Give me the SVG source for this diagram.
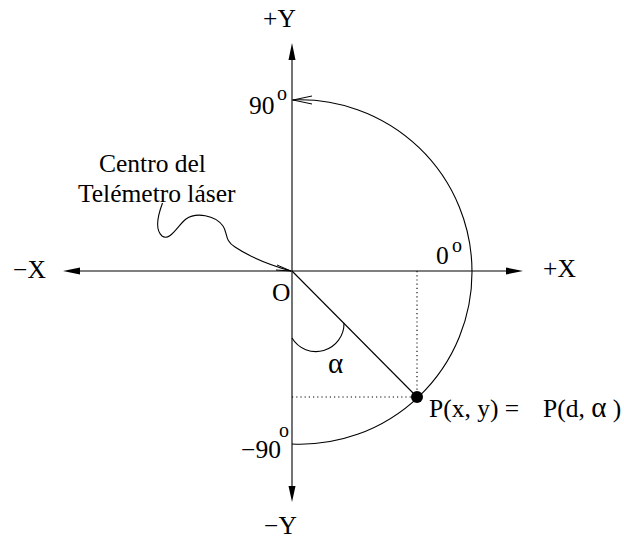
<svg xmlns="http://www.w3.org/2000/svg" width="624" height="540" viewBox="0 0 624 540">
<style>
text{font-family:"Liberation Serif","Times New Roman",serif;font-size:25.5px;fill:#000}
.sup{font-size:20px}
.greek{font-size:29px}
.ln{stroke:#000;stroke-width:1.1;fill:none}
.dot{stroke:#000;stroke-width:1.1;fill:none;stroke-dasharray:1.2 3}
.head{fill:#000;stroke:none}
.stick{stroke:#000;stroke-width:1;fill:none}
</style>
<rect width="624" height="540" fill="#fff"/>
<g id="axes">
<line class="ln" x1="292" y1="58" x2="292" y2="488"/>
<line class="ln" x1="78" y1="271" x2="508" y2="271"/>
<path class="head" d="M292,43 L288.5,60 L295.5,60 Z"/>
<path class="head" d="M292,502 L288.5,486 L295.5,486 Z"/>
<path class="head" d="M63,271 L80,267.5 L80,274.5 Z"/>
<path class="head" d="M523,271 L506,267.5 L506,274.5 Z"/>
</g>
<g id="labels">
<text x="263" y="27">+Y</text>
<text x="264" y="534">−Y</text>
<text x="13" y="278">−X</text>
<text x="543" y="277">+X</text>
<text x="272" y="301">O</text>
<text x="249" y="114">90</text><text class="sup" x="277" y="100">o</text>
<text x="436" y="264">0</text><text class="sup" x="452" y="252">o</text>
<text x="241" y="458">−90</text><text class="sup" x="279" y="437">o</text>
</g>
<g id="sweep">
<path class="ln" d="M292,100 A172,172 0 0 1 472,272 A172,172 0 0 1 292,444"/>
<path class="stick" d="M312,96 L293,100 L312,104"/>
</g>
<g id="point-p">
<line class="ln" x1="292" y1="271" x2="417" y2="397"/>
<line class="dot" x1="417" y1="271" x2="417" y2="397"/>
<line class="dot" x1="292" y1="397" x2="417" y2="397"/>
<circle cx="417" cy="397" r="6" fill="#000"/>
<text x="429" y="417">P(x, y) =</text>
<text x="543" y="417">P(d, <tspan class="greek">α</tspan> )</text>
</g>
<g id="alpha">
<path class="ln" d="M292,338 A28,28 0 0 0 344,323"/>
<text class="greek" x="328" y="373">α</text>
</g>
<g id="laser-label">
<text x="99" y="172">Centro del</text>
<text x="78" y="202">Telémetro láser</text>
</g>
<g id="connectors">
<path class="ln" d="M162.5,203 C158,215 155,230 162,236 C170,242 178,225 186,219 C196,212 215,215 223,226 C228,233 224,240 235,247 C250,257 270,265 291,271"/>
<path class="stick" d="M277,265 L291,271 L276,270"/>
</g>
</svg>
